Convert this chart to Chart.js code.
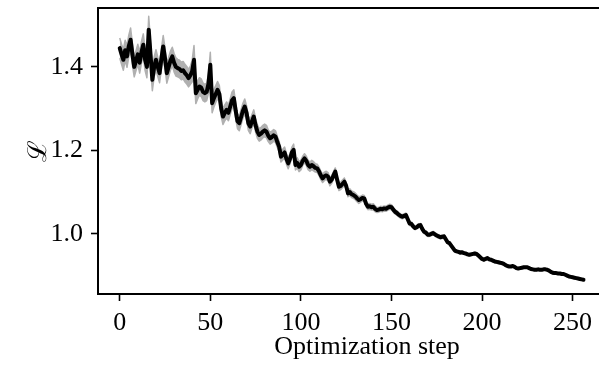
<!DOCTYPE html>
<html>
<head>
<meta charset="utf-8">
<script src="https://cdn.jsdelivr.net/npm/chart.js@4"></script>
<style>
  html, body { margin: 0; padding: 0; background: #fff; overflow: hidden; width: 599px; height: 372px; }
  canvas { display: block; }
</style>
</head>
<body>
<canvas id="lossChart" width="640" height="372"></canvas>
<script>
// Marcas de los ejes
const xTicks = [0, 50, 100, 150, 200, 250];
const yTicks = [1.0, 1.2, 1.4];

// Valor medio de la pérdida por paso (0..256)
const lossMean = [
  1.445, 1.43, 1.417, 1.44, 1.425, 1.45, 1.465, 1.43, 1.40, 1.415,
  1.43, 1.41, 1.435, 1.453, 1.417, 1.40, 1.489, 1.43, 1.369, 1.40,
  1.417, 1.40, 1.385, 1.42, 1.449, 1.42, 1.385, 1.40, 1.415, 1.425,
  1.41, 1.40, 1.397, 1.395, 1.39, 1.392, 1.385, 1.38, 1.373, 1.38,
  1.39, 1.417, 1.337, 1.345, 1.353, 1.35, 1.34, 1.337, 1.34, 1.36,
  1.405, 1.313, 1.325, 1.335, 1.345, 1.335, 1.30, 1.281, 1.29, 1.297,
  1.29, 1.305, 1.32, 1.325, 1.295, 1.27, 1.265, 1.28, 1.295, 1.305,
  1.29, 1.265, 1.257, 1.27, 1.281, 1.26, 1.245, 1.237, 1.24, 1.245,
  1.248, 1.245, 1.235, 1.229, 1.232, 1.236, 1.233, 1.22, 1.209, 1.185,
  1.19, 1.195, 1.18, 1.169, 1.18, 1.195, 1.201, 1.165, 1.17, 1.161,
  1.165, 1.175, 1.181, 1.175, 1.165, 1.161, 1.165, 1.162, 1.158, 1.157,
  1.15, 1.14, 1.133, 1.138, 1.14, 1.137, 1.125, 1.13, 1.14, 1.149,
  1.13, 1.113, 1.115, 1.12, 1.125, 1.115, 1.097, 1.10, 1.095, 1.093,
  1.09, 1.085, 1.081, 1.083, 1.086, 1.085, 1.072, 1.065, 1.066, 1.064,
  1.065, 1.06, 1.057, 1.058, 1.06, 1.059, 1.061, 1.06, 1.063, 1.065,
  1.064, 1.058, 1.053, 1.05, 1.046, 1.043, 1.041, 1.043, 1.045, 1.035,
  1.025, 1.024, 1.018, 1.014, 1.016, 1.02, 1.021, 1.012, 1.005, 1.003,
  0.998, 0.998, 1.0, 1.002, 0.999, 0.996, 0.994, 0.992, 0.993, 0.994,
  0.987, 0.98, 0.978, 0.972, 0.966, 0.96, 0.958, 0.957, 0.955, 0.956,
  0.954, 0.953, 0.951, 0.95, 0.951, 0.952, 0.953, 0.952, 0.948, 0.944,
  0.94, 0.938, 0.94, 0.942, 0.939, 0.938, 0.936, 0.934, 0.933, 0.932,
  0.931, 0.93, 0.928, 0.925, 0.923, 0.922, 0.922, 0.923, 0.921, 0.918,
  0.917, 0.918, 0.919, 0.92, 0.92, 0.92, 0.918, 0.916, 0.915, 0.914,
  0.914, 0.915, 0.914, 0.914, 0.915, 0.915, 0.914, 0.912, 0.909, 0.907,
  0.906, 0.906, 0.905, 0.905, 0.904, 0.904, 0.902, 0.90, 0.898, 0.897,
  0.896, 0.895, 0.894, 0.893, 0.892, 0.891, 0.89
];

// Semiancho de la banda gris por paso
const lossSpread = [
  0.024, 0.024, 0.025, 0.024, 0.026, 0.026, 0.028, 0.026, 0.024, 0.024,
  0.024, 0.025, 0.026, 0.026, 0.026, 0.026, 0.032, 0.028, 0.026, 0.024,
  0.024, 0.023, 0.023, 0.024, 0.026, 0.025, 0.024, 0.023, 0.023, 0.022,
  0.022, 0.022, 0.021, 0.021, 0.021, 0.021, 0.021, 0.021, 0.021, 0.022,
  0.026, 0.034, 0.025, 0.022, 0.021, 0.021, 0.021, 0.021, 0.021, 0.023,
  0.03, 0.023, 0.021, 0.02, 0.02, 0.02, 0.019, 0.019, 0.019, 0.019,
  0.019, 0.019, 0.02, 0.02, 0.019, 0.018, 0.018, 0.018, 0.018, 0.018,
  0.017, 0.017, 0.017, 0.016, 0.016, 0.016, 0.016, 0.015, 0.015, 0.015,
  0.015, 0.015, 0.014, 0.014, 0.014, 0.014, 0.014, 0.013, 0.013, 0.013,
  0.013, 0.013, 0.013, 0.013, 0.012, 0.012, 0.014, 0.012, 0.012, 0.012,
  0.012, 0.011, 0.011, 0.011, 0.011, 0.011, 0.011, 0.011, 0.01, 0.01,
  0.01, 0.01, 0.01, 0.01, 0.01, 0.01, 0.01, 0.009, 0.009, 0.009,
  0.009, 0.009, 0.009, 0.009, 0.009, 0.008, 0.008, 0.008, 0.008, 0.008,
  0.008, 0.008, 0.008, 0.007, 0.007, 0.007, 0.007, 0.007, 0.007, 0.007,
  0.007, 0.007, 0.006, 0.006, 0.006, 0.006, 0.006, 0.006, 0.006, 0.006,
  0.006, 0.006, 0.005, 0.005, 0.005, 0.005, 0.005, 0.005, 0.005, 0.005,
  0.005, 0.005, 0.005, 0.004, 0.004, 0.004, 0.004, 0.004, 0.004, 0.004,
  0.004, 0.004, 0.004, 0.004, 0.004, 0.004, 0.004, 0.004, 0.004, 0.004,
  0.003, 0.003, 0.003, 0.003, 0.003, 0.003, 0.003, 0.003, 0.003, 0.003,
  0.003, 0.003, 0.003, 0.003, 0.003, 0.003, 0.003, 0.003, 0.003, 0.003,
  0.003, 0.003, 0.003, 0.003, 0.003, 0.003, 0.003, 0.003, 0.003, 0.003,
  0.002, 0.002, 0.002, 0.002, 0.002, 0.002, 0.002, 0.002, 0.002, 0.002,
  0.002, 0.002, 0.002, 0.002, 0.002, 0.002, 0.002, 0.002, 0.002, 0.002,
  0.002, 0.002, 0.002, 0.002, 0.002, 0.002, 0.002, 0.002, 0.002, 0.002,
  0.002, 0.002, 0.002, 0.002, 0.002, 0.002, 0.002, 0.002, 0.002, 0.002,
  0.002, 0.002, 0.002, 0.002, 0.002, 0.002, 0.002
];

document.addEventListener('DOMContentLoaded', function() {
    const serif = "'Liberation Serif', 'DejaVu Serif', serif";
    const tickFont = { family: serif, size: 26 };

    const meanPts = lossMean.map((v, i) => ({ x: i, y: v }));
    const lowerPts = lossMean.map((v, i) => ({ x: i, y: v - lossSpread[i] }));
    const upperPts = lossMean.map((v, i) => ({ x: i, y: v + lossSpread[i] }));

    // Línea superior del marco (matplotlib la dibuja, Chart.js no)
    const topSpine = {
        id: 'topSpine',
        afterDraw(chart) {
            const { ctx, chartArea } = chart;
            ctx.save();
            ctx.strokeStyle = '#000';
            ctx.lineWidth = 2;
            ctx.beginPath();
            ctx.moveTo(chartArea.left - 1, chartArea.top);
            ctx.lineTo(chartArea.right, chartArea.top);
            ctx.stroke();
            ctx.restore();
        }
    };

    const axisGrid = {
        display: true,
        drawOnChartArea: false,
        drawTicks: true,
        tickLength: 7,
        tickWidth: 1.6,
        tickColor: '#000'
    };

    // Sin relleno extra de Chart.js alrededor del área del gráfico
    const noPad = s => {
        s.paddingTop = 0; s.paddingBottom = 0;
        s.paddingLeft = 0; s.paddingRight = 0;
    };

    new Chart(document.getElementById('lossChart'), {
        type: 'line',
        data: {
            datasets: [
                {
                    data: meanPts,
                    borderColor: '#000',
                    borderWidth: 4,
                    borderJoinStyle: 'round',
                    borderCapStyle: 'round',
                    pointRadius: 0,
                    tension: 0,
                    fill: false,
                    order: 0
                },
                {
                    data: lowerPts,
                    borderColor: '#b0b0b0',
                    borderWidth: 1.5,
                    borderJoinStyle: 'round',
                    pointRadius: 0,
                    fill: false,
                    order: 1
                },
                {
                    data: upperPts,
                    borderColor: '#b0b0b0',
                    backgroundColor: '#b0b0b0',
                    borderWidth: 1.5,
                    borderJoinStyle: 'round',
                    pointRadius: 0,
                    fill: '-1',
                    order: 2
                }
            ]
        },
        options: {
            responsive: false,
            animation: false,
            events: [],
            layout: { padding: { top: 8, right: 4, left: 0, bottom: 0 } },
            plugins: { legend: { display: false }, tooltip: { enabled: false } },
            scales: {
                x: {
                    type: 'linear',
                    min: -12,
                    max: 285,
                    afterBuildTicks: s => { s.ticks = xTicks.map(v => ({ value: v })); },
                    afterFit: s => { s.height = 78; noPad(s); },
                    grid: axisGrid,
                    border: { display: true, color: '#000', width: 2 },
                    ticks: { color: '#000', font: tickFont, padding: 7, maxRotation: 0, autoSkip: false },
                    title: {
                        display: true,
                        text: 'Optimization step',
                        color: '#000',
                        font: tickFont,
                        padding: { top: 0, bottom: 9 }
                    }
                },
                y: {
                    min: 0.856,
                    max: 1.541,
                    afterBuildTicks: s => { s.ticks = yTicks.map(v => ({ value: v })); },
                    afterFit: s => { s.width = 98; noPad(s); },
                    grid: axisGrid,
                    border: { display: true, color: '#000', width: 2 },
                    ticks: {
                        color: '#000',
                        font: tickFont,
                        padding: 8,
                        callback: v => v.toFixed(1)
                    },
                    title: {
                        display: true,
                        text: 'ℒ',
                        color: '#000',
                        font: { family: "'DejaVu Serif', serif", size: 26 },
                        padding: { top: 24, bottom: 0 }
                    }
                }
            }
        },
        plugins: [topSpine]
    });
});
</script>
</body>
</html>
